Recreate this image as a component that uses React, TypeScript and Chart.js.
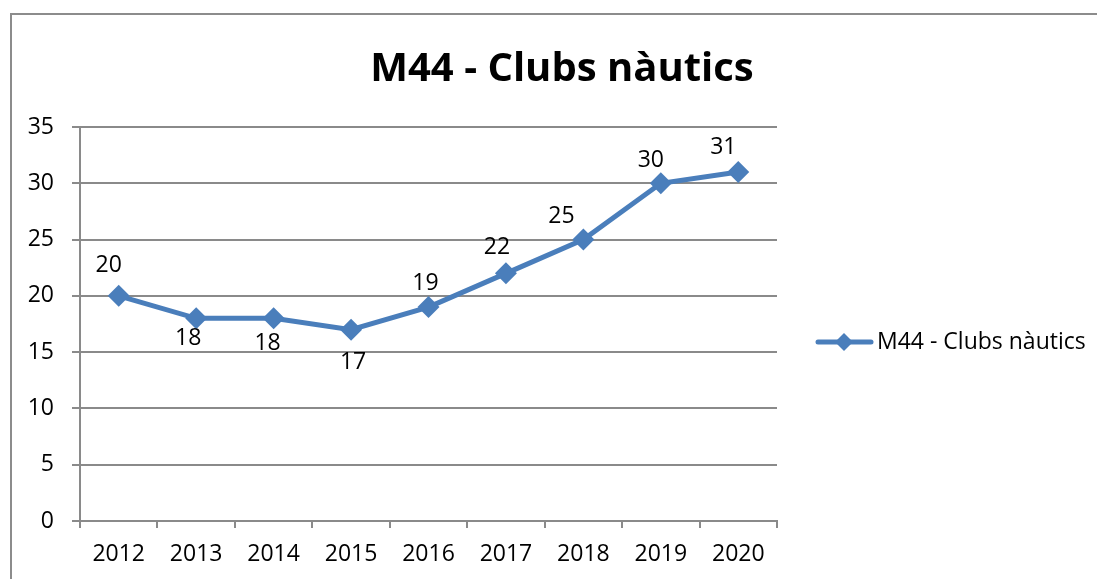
import React, { useEffect, useRef } from "react";
import { Chart, registerables } from "chart.js";

Chart.register(...registerables);

const categories = ["2012", "2013", "2014", "2015", "2016", "2017", "2018", "2019", "2020"];
const seriesName = "M44 - Clubs nàutics";
const seriesValues = [20, 18, 18, 17, 19, 22, 25, 30, 31];
const chartTitle = "M44 - Clubs nàutics";
const yMin = 0;
const yMax = 35;
const yStep = 5;

// label placement offsets (style only)
const labelDx = [-10, -8, -6, 2, -3, -9, -22, -10, -15];
const labelDy = [-30, 20, 25, 33, -24, -26, -23, -23, -25];

const FONT = "'Open Sans', 'Noto Sans', sans-serif";
const LINE_COLOR = "#4a7ebb";
const GRID_COLOR = "#8a8a8a";

function drawDiamond(ctx: CanvasRenderingContext2D, x: number, y: number, r: number) {
  ctx.beginPath();
  ctx.moveTo(x, y - r);
  ctx.lineTo(x + r, y);
  ctx.lineTo(x, y + r);
  ctx.lineTo(x - r, y);
  ctx.closePath();
  ctx.fill();
}

const decorPlugin = {
  id: "decor",
  beforeDraw(chart: any) {
    const ctx = chart.ctx as CanvasRenderingContext2D;
    ctx.save();
    ctx.fillStyle = "#ffffff";
    ctx.fillRect(0, 0, chart.width, chart.height);
    ctx.strokeStyle = "#8c8c8c";
    ctx.lineWidth = 2;
    ctx.beginPath();
    ctx.moveTo(11, chart.height + 20);
    ctx.lineTo(11, 14);
    ctx.lineTo(chart.width + 20, 14);
    ctx.stroke();
    ctx.restore();
  },
  afterDraw(chart: any) {
    const ctx = chart.ctx as CanvasRenderingContext2D;
    ctx.save();
    // title
    ctx.fillStyle = "#000000";
    ctx.font = `bold 40px ${FONT}`;
    ctx.textAlign = "center";
    ctx.textBaseline = "alphabetic";
    ctx.fillText(chartTitle, 562, 81);

    // data labels
    const meta = chart.getDatasetMeta(0);
    ctx.font = `23px ${FONT}`;
    ctx.textBaseline = "middle";
    ctx.textAlign = "center";
    meta.data.forEach((pt: any, i: number) => {
      ctx.fillText(String(chart.data.datasets[0].data[i]), pt.x + labelDx[i], pt.y + labelDy[i]);
    });

    // legend
    const ly = 342;
    ctx.strokeStyle = LINE_COLOR;
    ctx.lineWidth = 5;
    ctx.lineCap = "round";
    ctx.beginPath();
    ctx.moveTo(818, ly);
    ctx.lineTo(871, ly);
    ctx.stroke();
    ctx.fillStyle = LINE_COLOR;
    drawDiamond(ctx, 844, ly, 9);
    ctx.fillStyle = "#000000";
    ctx.font = `23px ${FONT}`;
    ctx.textAlign = "left";
    ctx.textBaseline = "middle";
    ctx.fillText(chart.data.datasets[0].label, 877, ly);
    ctx.restore();
  },
};

export default function App() {
  const ref = useRef<HTMLCanvasElement | null>(null);
  useEffect(() => {
    if (!ref.current) return;
    const chart = new Chart(ref.current, {
      type: "line",
      data: {
        labels: categories,
        datasets: [
          {
            label: seriesName,
            data: seriesValues,
            borderColor: LINE_COLOR,
            backgroundColor: LINE_COLOR,
            borderWidth: 5,
            tension: 0,
            pointStyle: "rectRot",
            pointRadius: 11,
            pointHoverRadius: 11,
            pointBorderWidth: 0,
            pointBackgroundColor: LINE_COLOR,
          },
        ],
      },
      options: {
        animation: false,
        responsive: false,
        events: [],
        layout: { padding: { left: 0, top: 127, right: 320, bottom: 0 } },
        plugins: {
          legend: { display: false },
          title: { display: false },
          tooltip: { enabled: false },
        },
        scales: {
          x: {
            offset: true,
            grid: {
              offset: true,
              drawOnChartArea: false,
              drawTicks: true,
              tickLength: 7,
              color: GRID_COLOR,
              lineWidth: 2,
            },
            border: { color: GRID_COLOR, width: 2 },
            ticks: {
              color: "#000000",
              font: { family: FONT, size: 23 },
              padding: 13,
              maxRotation: 0,
              autoSkip: false,
            },
            afterFit: (scale: any) => {
              scale.height = 58;
            },
          },
          y: {
            min: yMin,
            max: yMax,
            grid: {
              color: GRID_COLOR,
              lineWidth: 2,
              drawTicks: true,
              tickLength: 8,
            },
            border: { color: GRID_COLOR, width: 2 },
            ticks: {
              stepSize: yStep,
              color: "#000000",
              font: { family: FONT, size: 23 },
              padding: 18,
            },
            afterFit: (scale: any) => {
              scale.width = 80;
            },
          },
        },
      },
      plugins: [decorPlugin],
    });
    return () => chart.destroy();
  }, []);
  return (
    <div style={{ position: "fixed", left: 0, top: 0, width: 1097, height: 579 }}>
      <canvas ref={ref} width={1097} height={579} />
    </div>
  );
}
